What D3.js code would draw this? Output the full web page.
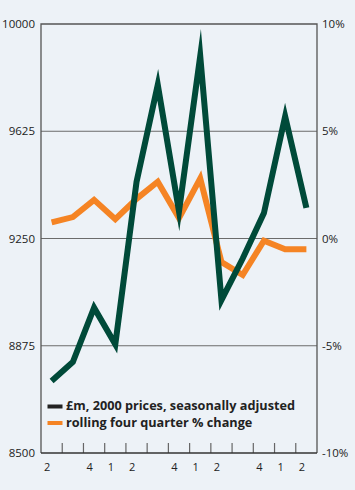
<!DOCTYPE html>
<html><head><meta charset="utf-8">
<script src="https://cdn.jsdelivr.net/npm/d3@7"></script>
<style>
html,body{margin:0;padding:0;background:#edf2f7;}
svg{display:block;}
text{font-family:"Open Sans","Noto Sans",sans-serif;}
</style></head>
<body>
<svg id="c" width="355" height="490"></svg>
<script>
// ---- data ----
const quarters = ["2","3","4","1","2","3","4","1","2","3","4","1","2"];
const tickLabels = ["2","","4","1","2","","4","1","2","","4","1","2"];
const levelValues = [8752, 8818, 9008, 8880, 9448, 9787, 9345, 9888, 9035, 9180, 9339, 9677, 9357];
const changeValues = [0.75, 1.0, 1.8, 0.9, 1.85, 2.65, 0.95, 2.8, -1.1, -1.7, -0.1, -0.5, -0.5];
const leftTicks = [8500, 8875, 9250, 9625, 10000];
const rightTicks = [-10, -5, 0, 5, 10];
const legendLabels = ["£m, 2000 prices, seasonally adjusted", "rolling four quarter % change"];

// ---- layout ----
const L = 41, R = 317, T = 24, B = 453;
const green = "#004a39", orange = "#f58424";
const svg = d3.select("#c");

const x = d3.scaleBand().domain(d3.range(quarters.length)).range([L, R]).padding(0);
const yL = d3.scaleLinear().domain([8500, 10000]).range([B, T]);
const yR = d3.scaleLinear().domain([-10, 10]).range([B, T]);
const cx = i => x(i) + x.bandwidth() / 2;

// grid lines
svg.append("g").selectAll("line").data(leftTicks.slice(1, -1)).join("line")
  .attr("x1", L).attr("x2", R).attr("y1", d => yL(d)).attr("y2", d => yL(d))
  .attr("stroke", "#6b6b6b").attr("stroke-width", 1);

// frame
svg.append("path")
  .attr("d", `M${L},${B}V${T}H${R}V${B}`)
  .attr("fill", "none").attr("stroke", "#555").attr("stroke-width", 1.3);

// x ticks at band boundaries
svg.append("g").selectAll("line").data(d3.range(1, quarters.length)).join("line")
  .attr("x1", i => x(i)).attr("x2", i => x(i)).attr("y1", B).attr("y2", B - 10)
  .attr("stroke", "#666").attr("stroke-width", 1.2);
svg.append("line").attr("x1", L).attr("x2", R).attr("y1", B).attr("y2", B)
  .attr("stroke", "#333").attr("stroke-width", 1.5);

// x labels
svg.append("g").selectAll("text").data(tickLabels).join("text")
  .attr("x", (d, i) => cx(i) - 4.5).attr("y", 471)
  .attr("text-anchor", "middle").attr("font-size", 11).attr("fill", "#222")
  .text(d => d);

// left axis
const gl = svg.append("g").attr("transform", `translate(${L},0)`)
  .call(d3.axisLeft(yL).tickValues(leftTicks).tickSize(0).tickPadding(6).tickFormat(d3.format("d")));
gl.select(".domain").remove();
gl.selectAll("text").attr("font-size", 11.5).attr("fill", "#222")
  .attr("font-family", "'Open Sans','Noto Sans',sans-serif");

// right axis
const gr = svg.append("g").attr("transform", `translate(${R},0)`)
  .call(d3.axisRight(yR).tickValues(rightTicks).tickSize(0).tickPadding(5).tickFormat(d => d + "%"));
gr.select(".domain").remove();
gr.selectAll("text").attr("font-size", 11.5).attr("fill", "#222")
  .attr("font-family", "'Open Sans','Noto Sans',sans-serif");

// lines
const lineR = d3.line().x((d, i) => cx(i)).y(d => yR(d));
const lineL = d3.line().x((d, i) => cx(i)).y(d => yL(d));
svg.append("path").datum(changeValues).attr("d", lineR)
  .attr("fill", "none").attr("stroke", orange).attr("stroke-width", 6)
  .attr("stroke-linejoin", "miter").attr("stroke-miterlimit", 12);
svg.append("path").datum(levelValues).attr("d", lineL)
  .attr("fill", "none").attr("stroke", green).attr("stroke-width", 6)
  .attr("stroke-linejoin", "miter").attr("stroke-miterlimit", 12);

// legend
const leg = svg.append("g");
const legColors = ["#222", orange];
legendLabels.forEach((t, i) => {
  const yy = 410 + i * 16.5;
  leg.append("rect").attr("x", 47.5).attr("y", yy - 5.5).attr("width", 15).attr("height", 4)
    .attr("fill", legColors[i]);
  leg.append("text").attr("x", 66).attr("y", yy).attr("font-size", 12.7)
    .attr("font-weight", "bold").attr("fill", "#222").text(t);
});
</script>
</body></html>
